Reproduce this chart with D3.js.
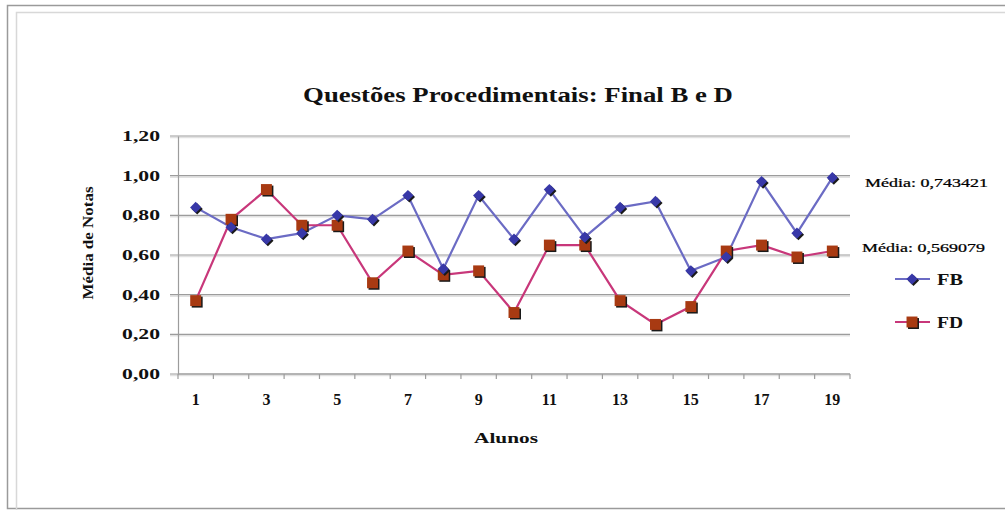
<!DOCTYPE html>
<html>
<head>
<meta charset="utf-8">
<script src="https://cdn.jsdelivr.net/npm/d3@7"></script>
<style>
  body { margin: 0; background: #fff; }
  svg text { font-family: "Liberation Serif", "Times New Roman", serif; font-weight: bold; fill: #111; }
</style>
</head>
<body>
<div id="wrapper"></div>
<script>
// data
const alunos = d3.range(1, 20)
const fbValues = [0.84, 0.74, 0.68, 0.71, 0.80, 0.78, 0.90, 0.53, 0.90, 0.68,
                  0.93, 0.69, 0.84, 0.87, 0.52, 0.59, 0.97, 0.71, 0.99]
const fdValues = [0.37, 0.78, 0.93, 0.75, 0.75, 0.46, 0.62, 0.50, 0.52, 0.31,
                  0.65, 0.65, 0.37, 0.25, 0.34, 0.62, 0.65, 0.59, 0.62]
const yTicks = [0, 0.2, 0.4, 0.6, 0.8, 1.0, 1.2]
const xTickLabels = [1, 3, 5, 7, 9, 11, 13, 15, 17, 19]
const mediaLabels = ["Média: 0,743421", "Média: 0,569079"]

// stretch a text horizontally so it takes the wanted width (old scanned look)
function fit(sel, w, anchorX, anchorY) {
  sel.each(function () {
    const len = this.getComputedTextLength()
    const k = w / len
    const x = anchorX != null ? anchorX : +this.getAttribute("x")
    const y = anchorY != null ? anchorY : +this.getAttribute("y")
    d3.select(this)
      .attr("transform", `translate(${x}, ${y}) scale(${k}, 1) translate(${-x}, ${-y})`)
  })
}

function drawChart() {

  // 1. dimensions
  let dimensions = {
    width: 1005,
    height: 510,
    margin: { top: 136, right: 155, bottom: 136, left: 178 },
  }
  dimensions.boundedWidth = dimensions.width - dimensions.margin.left - dimensions.margin.right
  dimensions.boundedHeight = dimensions.height - dimensions.margin.top - dimensions.margin.bottom

  // 2. canvas
  const wrapper = d3.select("#wrapper")
    .append("svg")
    .attr("width", dimensions.width)
    .attr("height", dimensions.height)

  // frames
  wrapper.append("rect")
    .attr("x", 7.5).attr("y", 5.5)
    .attr("width", 1010).attr("height", 503)
    .attr("fill", "none").attr("stroke", "#9a9a9a").attr("stroke-width", 1.5)
  wrapper.append("rect")
    .attr("x", 16.5).attr("y", 12.5)
    .attr("width", 1000).attr("height", 520)
    .attr("fill", "none").attr("stroke", "#d8d8d8").attr("stroke-width", 1.5)

  const bounds = wrapper.append("g")
    .attr("transform", `translate(${dimensions.margin.left}, ${dimensions.margin.top})`)

  // 3. scales
  const xScale = d3.scaleBand()
    .domain(alunos)
    .range([0, dimensions.boundedWidth])
  const xPos = d => xScale(d) + xScale.bandwidth() / 2

  const yScale = d3.scaleLinear()
    .domain([0, 1.2])
    .range([dimensions.boundedHeight, 0])

  // gridlines (with a soft shadow)
  bounds.append("g")
    .selectAll("line")
    .data(yTicks)
    .join("line")
    .attr("x1", -8).attr("x2", dimensions.boundedWidth)
    .attr("y1", d => yScale(d) + 1.5).attr("y2", d => yScale(d) + 1.5)
    .attr("stroke", "#e2e2e2").attr("stroke-width", 1.5)
  bounds.append("g")
    .selectAll("line")
    .data(yTicks)
    .join("line")
    .attr("x1", -8).attr("x2", dimensions.boundedWidth)
    .attr("y1", d => yScale(d)).attr("y2", d => yScale(d))
    .attr("stroke", "#9c9c9c").attr("stroke-width", 1.2)

  // y axis
  const yAxis = bounds.append("g")
    .call(d3.axisLeft(yScale).tickValues(yTicks).tickSize(0).tickPadding(18)
      .tickFormat(d => d3.format(".2f")(d).replace(".", ",")))
  yAxis.attr("font-family", null)
  yAxis.select(".domain").attr("stroke", "#9c9c9c").attr("stroke-width", 1.2)
  yAxis.selectAll("text")
    .attr("font-family", "Liberation Serif")
    .attr("font-weight", "bold")
    .attr("font-size", 14)
    .attr("fill", "#222")
    .attr("x", -18)
  yAxis.selectAll(".tick text").each(function () {
    fit(d3.select(this), 38, -18, 0)
  })

  // x axis: ticks at category boundaries
  const xAxisG = bounds.append("g")
    .attr("transform", `translate(0, ${dimensions.boundedHeight})`)
  xAxisG.append("line")
    .attr("x1", 0).attr("x2", dimensions.boundedWidth)
    .attr("stroke", "#9c9c9c").attr("stroke-width", 1.2)
  xAxisG.selectAll(".tick-mark")
    .data(alunos.concat([20]))
    .join("line")
    .attr("class", "tick-mark")
    .attr("x1", d => d <= 19 ? xScale(d) : dimensions.boundedWidth)
    .attr("x2", d => d <= 19 ? xScale(d) : dimensions.boundedWidth)
    .attr("y1", 0).attr("y2", 5)
    .attr("stroke", "#9c9c9c").attr("stroke-width", 1.2)
  xAxisG.selectAll(".tick-label")
    .data(xTickLabels)
    .join("text")
    .attr("class", "tick-label")
    .attr("x", d => xPos(d))
    .attr("y", 31)
    .attr("text-anchor", "middle")
    .style("font-size", "16px")
    .text(d => d)

  // 4. lines
  const series = [
    { name: "FB", values: fbValues, line: "#6b6bc4", mark: "#3838a8" },
    { name: "FD", values: fdValues, line: "#c8377a", mark: "#a83a12" },
  ]
  const lineGen = d3.line()
    .x((d, i) => xPos(alunos[i]))
    .y(d => yScale(d))

  series.forEach(s => {
    bounds.append("path")
      .datum(s.values)
      .attr("fill", "none")
      .attr("stroke", s.line)
      .attr("stroke-width", 2.2)
      .attr("d", lineGen)
  })

  const diamond = d3.symbol().type(d3.symbolDiamond2).size(80)
  const square = d3.symbol().type(d3.symbolSquare).size(120)

  function drawMarks(g, s, sym) {
    g.selectAll(".shadow")
      .data(s.values)
      .join("path")
      .attr("class", "shadow")
      .attr("d", sym)
      .attr("transform", (d, i) => `translate(${xPos(alunos[i]) + 1.5}, ${yScale(d) + 1.5})`)
      .attr("fill", "#1a1a1a")
    g.selectAll(".mark")
      .data(s.values)
      .join("path")
      .attr("class", "mark")
      .attr("d", sym)
      .attr("transform", (d, i) => `translate(${xPos(alunos[i])}, ${yScale(d)})`)
      .attr("fill", s.mark)
  }
  drawMarks(bounds.append("g"), series[1], square)
  drawMarks(bounds.append("g"), series[0], diamond)

  // title and axis titles
  wrapper.append("text")
    .attr("x", 518).attr("y", 102)
    .attr("text-anchor", "middle")
    .style("font-size", "21px")
    .text("Questões Procedimentais: Final B e D")
    .call(fit, 430)

  wrapper.append("text")
    .attr("x", 506).attr("y", 443)
    .attr("text-anchor", "middle")
    .style("font-size", "15px")
    .text("Alunos")
    .call(fit, 64)

  wrapper.append("text")
    .attr("transform", "translate(93, 243) rotate(-90)")
    .attr("text-anchor", "middle")
    .style("font-size", "15px")
    .attr("textLength", 113).attr("lengthAdjust", "spacingAndGlyphs")
    .text("Média de Notas")

  // média annotations
  wrapper.selectAll(".media")
    .data(mediaLabels)
    .join("text")
    .attr("class", "media")
    .attr("x", (d, i) => i === 0 ? 865 : 862)
    .attr("y", (d, i) => i === 0 ? 187 : 252)
    .style("font-size", "12.5px")
    .style("font-weight", "normal")
    .style("fill", "#000")
    .style("stroke", "#000")
    .style("stroke-width", 0.25)
    .text(d => d)
    .call(fit, 123)

  // legend
  const legend = wrapper.append("g")
  const legendY = [279, 322]
  series.forEach((s, i) => {
    const g = legend.append("g").attr("transform", `translate(895, ${legendY[i]})`)
    g.append("line")
      .attr("x1", 0).attr("x2", 35)
      .attr("stroke", s.line).attr("stroke-width", 2.2)
    g.append("path")
      .attr("d", i === 0 ? diamond : square)
      .attr("transform", "translate(18.5, 1.5)")
      .attr("fill", "#1a1a1a")
    g.append("path")
      .attr("d", i === 0 ? diamond : square)
      .attr("transform", "translate(17, 0)")
      .attr("fill", s.mark)
    g.append("text")
      .attr("x", 42).attr("y", 6)
      .style("font-size", "16px")
      .text(s.name)
      .call(fit, 26)
  })
}
drawChart()
</script>
</body>
</html>
